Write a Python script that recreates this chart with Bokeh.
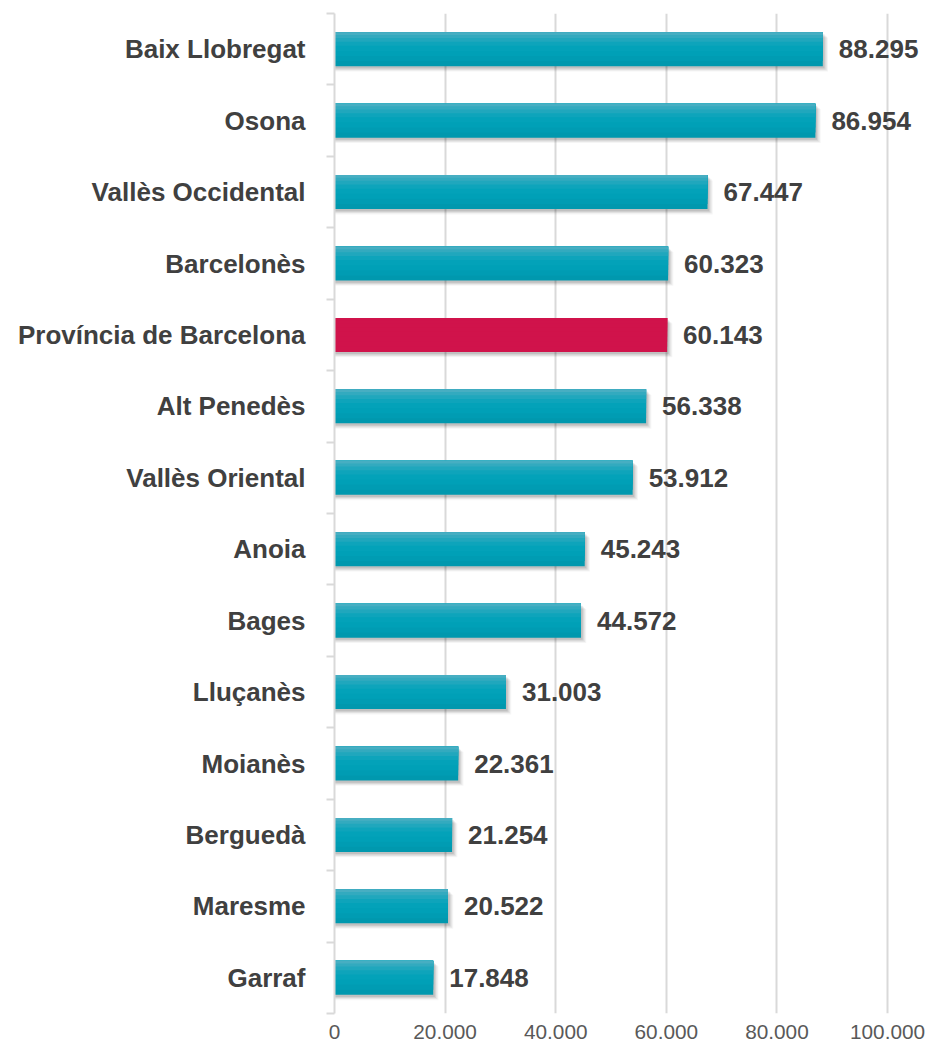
from bokeh.plotting import figure
from bokeh.models import Range1d, FixedTicker, ColumnDataSource
from bokeh.transform import dodge
from bokeh.core.properties import value
from bokeh.embed import file_html
from bokeh.resources import INLINE

# ---- data ----
categories = ["Baix Llobregat", "Osona", "Vallès Occidental", "Barcelonès",
              "Província de Barcelona", "Alt Penedès", "Vallès Oriental", "Anoia",
              "Bages", "Lluçanès", "Moianès", "Berguedà", "Maresme", "Garraf"]
values = [88295, 86954, 67447, 60323, 60143, 56338, 53912, 45243,
          44572, 31003, 22361, 21254, 20522, 17848]
highlight = "Província de Barcelona"
x_ticks = [0, 20000, 40000, 60000, 80000, 100000]
x_tick_labels = ["0", "20.000", "40.000", "60.000", "80.000", "100.000"]

# ---- style ----
FONT = value("Liberation Sans")
TEXT_DARK = "#404040"
CRIMSON = "#d0134b"
# (fraction of bar height covered from the top, colour) from deepest to shallowest
teal_layers = [(1.00, "#0098ae"), (0.85, "#009cb3"), (0.70, "#00a0b7"),
               (0.55, "#03a2b9"), (0.40, "#0ea4bb"), (0.28, "#20a7bd"),
               (0.17, "#33aabf"), (0.08, "#47aec2")]
BAR_H = 0.476

n = len(categories)
idx = list(range(n))
labels = [f"{v:,}".replace(",", ".") for v in values]
is_hl = [c == highlight for c in categories]

src = ColumnDataSource(dict(y=idx, value=values, label=labels))

p = figure(width=932, height=1049, output_backend="svg", toolbar_location=None,
           x_range=Range1d(0, 106500), y_range=Range1d(n - 0.5, -0.5),
           min_border_left=334, min_border_right=9, min_border_top=13,
           min_border_bottom=36)
p.outline_line_color = None
p.background_fill_color = "white"
p.border_fill_color = "white"

# soft shadows
for dx, dy, a in [(950, 0.075, 0.04), (750, 0.06, 0.06), (500, 0.045, 0.08), (300, 0.03, 0.09)]:
    p.hbar(y=dodge("y", dy), left=0, right=dodge("value", dx), height=BAR_H,
           source=src, fill_color="black", fill_alpha=a, line_color=None)

# gradient bars: nested layers anchored at the top edge
for f, col in teal_layers:
    off = -BAR_H / 2 + f * BAR_H / 2
    colors = [CRIMSON if h else col for h in is_hl]
    s = ColumnDataSource(dict(y=idx, value=values, c=colors))
    p.hbar(y=dodge("y", off), left=0, right="value", height=BAR_H * f,
           source=s, fill_color="c", line_color=None)

# value labels
p.text(x="value", y="y", text="label", source=src, x_offset=16,
       text_baseline="middle", text_align="left", text_font=FONT,
       text_font_style="bold", text_font_size="26px", text_color=TEXT_DARK)

# y axis
ya = p.yaxis[0]
ya.ticker = FixedTicker(ticks=idx, minor_ticks=[i - 0.5 for i in range(n + 1)])
ya.major_label_overrides = {i: c for i, c in zip(idx, categories)}
ya.major_label_text_font = "Liberation Sans"
ya.major_label_text_font_style = "bold"
ya.major_label_text_font_size = "26px"
ya.major_label_text_color = TEXT_DARK
ya.major_label_standoff = 21
ya.major_tick_out = 0
ya.major_tick_in = 0
ya.minor_tick_out = 8
ya.minor_tick_in = 0
ya.minor_tick_line_color = "#d9d9d9"
ya.minor_tick_line_width = 2
ya.axis_line_color = "#d9d9d9"
ya.axis_line_width = 2

# x axis
xa = p.xaxis[0]
xa.ticker = FixedTicker(ticks=x_ticks, minor_ticks=[])
xa.major_label_overrides = {t: l for t, l in zip(x_ticks, x_tick_labels)}
xa.major_label_text_font = "Liberation Sans"
xa.major_label_text_font_size = "20.8px"
xa.major_label_text_color = "#595959"
xa.major_label_standoff = 11
xa.major_tick_out = 0
xa.major_tick_in = 0
xa.minor_tick_line_color = None
xa.axis_line_color = None

p.ygrid.grid_line_color = None
p.xgrid.grid_line_color = "#d9d9d9"
p.xgrid.grid_line_width = 2
p.xgrid.ticker = FixedTicker(ticks=x_ticks[1:])

open("out.html", "w").write(file_html(p, INLINE))
